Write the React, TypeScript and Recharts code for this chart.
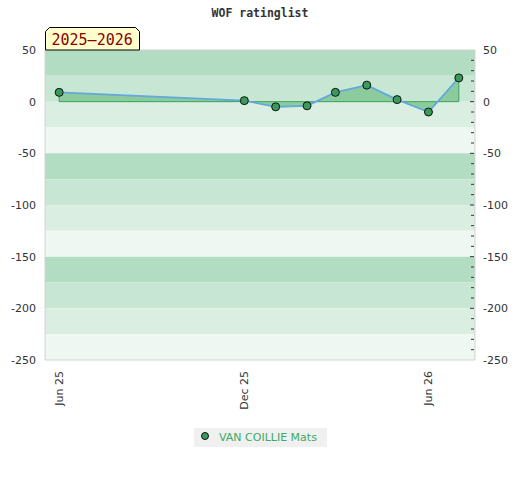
import {
  Area,
  CartesianGrid,
  ComposedChart,
  Line,
  ReferenceArea,
  ReferenceLine,
  XAxis,
  YAxis,
} from "recharts";

// monthly rating change for the season
const MONTHS = [
  "2025-06-01",
  "2025-12-01",
  "2026-01-01",
  "2026-02-01",
  "2026-03-01",
  "2026-04-01",
  "2026-05-01",
  "2026-06-01",
  "2026-07-01",
];
const RATING_DELTA = [9, 1, -5, -4, 9, 16, 2, -10, 23];

const X_TICKS = ["2025-06-01", "2025-12-01", "2026-06-01"];
const X_TICK_LABELS = ["Jun 25", "Dec 25", "Jun 26"];

const Y_MIN = -250;
const Y_MAX = 50;
const Y_TICKS = [50, 0, -50, -100, -150, -200, -250];
const Y_MINOR_TICKS = [
  50, 40, 30, 20, 10, 0, -10, -20, -30, -40, -50, -60, -70, -80, -90, -100, -110, -120, -130,
  -140, -150, -160, -170, -180, -190, -200, -210, -220, -230, -240, -250,
];
const BAND_EDGES = [50, 25, 0, -25, -50, -75, -100, -125, -150, -175, -200, -225, -250];
const BAND_COLORS = ["#b3ddc3", "#c8e6d4", "#dbeee2", "#eef7f1"];

const SERIES_NAME = "VAN COILLIE Mats";
const SEASON = "2025–2026";
const TITLE = "WOF ratinglist";

const DAY = 24 * 3600 * 1000;
const toTime = (s: string) => Date.parse(s + "T00:00:00Z");

const data = MONTHS.map((m, i) => ({ t: toTime(m), v: RATING_DELTA[i] }));
const firstT = data[0].t;
const lastT = data[data.length - 1].t;
const X_DOMAIN = [firstT - 14 * DAY, lastT + 16 * DAY];

const FONT = "'DejaVu Sans', sans-serif";
const TEXT = "#333333";
const BORDER = "#d3d3d3";
const RIGHT_MARGIN = 8;

function XTick(props: any) {
  const { x, y, payload } = props;
  const idx = X_TICKS.findIndex((d) => toTime(d) === payload.value);
  return (
    <text
      x={x}
      y={y}
      dy="0.35em"
      transform={`rotate(-90, ${x}, ${y})`}
      textAnchor="end"
      fontFamily={FONT}
      fontSize={11}
      fill={TEXT}
    >
      {X_TICK_LABELS[idx]}
    </text>
  );
}

function RightTick(props: any) {
  const { x, y, payload } = props;
  const value = Number(payload.value);
  const major = value % 50 === 0;
  const axisX = x - RIGHT_MARGIN;
  const edge = value === Y_MAX || value === Y_MIN;
  return (
    <g>
      {!edge && (
        <line x1={axisX - (major ? 5 : 4)} x2={axisX - 1} y1={y} y2={y} stroke={TEXT} />
      )}
      {major && (
        <text x={x} y={y} dy={4} textAnchor="start" fontFamily={FONT} fontSize={11} fill={TEXT}>
          {value}
        </text>
      )}
    </g>
  );
}

export default function App() {
  return (
    <div
      style={{
        position: "absolute",
        left: 0,
        top: 0,
        width: 520,
        height: 480,
        background: "#fff",
      }}
    >
      <div
        style={{
          position: "absolute",
          top: 6,
          left: 0,
          width: 520,
          textAlign: "center",
          fontFamily: "'DejaVu Sans Mono', monospace",
          fontWeight: "bold",
          fontSize: 11.5,
          color: TEXT,
        }}
      >
        {TITLE}
      </div>

      <ComposedChart
        width={520}
        height={480}
        data={data}
        margin={{ top: 50, right: 0, left: 0, bottom: 60 }}
      >
        {BAND_EDGES.slice(0, -1).map((top, i) => (
          <ReferenceArea
            key={top}
            yAxisId="left"
            y1={BAND_EDGES[i + 1]}
            y2={top}
            fill={BAND_COLORS[i % BAND_COLORS.length]}
            fillOpacity={1}
            stroke="none"
            ifOverflow="hidden"
          />
        ))}
        <CartesianGrid
          yAxisId="left"
          vertical={false}
          stroke="#ffffff"
          strokeOpacity={0.5}
        />
        <XAxis
          dataKey="t"
          type="number"
          scale="time"
          domain={X_DOMAIN}
          ticks={X_TICKS.map(toTime)}
          tick={<XTick />}
          tickLine={false}
          tickSize={0}
          tickMargin={11}
          axisLine={{ stroke: BORDER }}
          height={60}
          interval={0}
        />
        <YAxis
          yAxisId="left"
          type="number"
          domain={[Y_MIN, Y_MAX]}
          ticks={Y_TICKS}
          interval={0}
          width={45}
          tickLine={false}
          tickSize={0}
          tickMargin={9}
          axisLine={{ stroke: BORDER }}
          tick={{ fontFamily: FONT, fontSize: 11, fill: TEXT }}
        />
        <YAxis
          yAxisId="right"
          type="number"
          orientation="right"
          domain={[Y_MIN, Y_MAX]}
          ticks={Y_MINOR_TICKS}
          interval={0}
          width={45}
          tickLine={false}
          tickSize={0}
          tickMargin={RIGHT_MARGIN}
          axisLine={{ stroke: BORDER }}
          tick={<RightTick />}
        />
        <ReferenceLine yAxisId="left" y={Y_MAX} stroke={BORDER} />
        <Area
          yAxisId="right"
          type="linear"
          dataKey="v"
          baseValue={0}
          fill="#8bcb9d"
          fillOpacity={1}
          stroke="none"
          isAnimationActive={false}
        />
        <ReferenceLine
          yAxisId="left"
          segment={[
            { x: firstT, y: 0 },
            { x: lastT, y: 0 },
          ]}
          stroke="#3aa35c"
          strokeWidth={1}
        />
        <ReferenceLine
          yAxisId="left"
          segment={[
            { x: firstT, y: 0 },
            { x: firstT, y: RATING_DELTA[0] },
          ]}
          stroke="#3aa35c"
        />
        <ReferenceLine
          yAxisId="left"
          segment={[
            { x: lastT, y: 0 },
            { x: lastT, y: RATING_DELTA[RATING_DELTA.length - 1] },
          ]}
          stroke="#3aa35c"
        />
        <Line
          yAxisId="left"
          type="linear"
          dataKey="v"
          stroke="#62a8dc"
          strokeWidth={1.8}
          dot={{ r: 4, fill: "#3a9a5b", stroke: "#111", strokeWidth: 1, fillOpacity: 1 }}
          activeDot={false}
          isAnimationActive={false}
        />
      </ComposedChart>

      <svg
        width={100}
        height={26}
        style={{ position: "absolute", left: 44, top: 26, overflow: "visible" }}
      >
        <polygon
          points="1.5,5.5 5.5,1.5 91.5,1.5 95.5,5.5 95.5,24 1.5,24"
          fill="#ffffcc"
          stroke="#000"
          strokeWidth={1}
        />
        <text
          x={7.5}
          y={19}
          fontFamily="'DejaVu Sans Mono', monospace"
          fontSize={15}
          fill="#8b0000"
        >
          {SEASON}
        </text>
      </svg>

      <div
        style={{
          position: "absolute",
          left: 194,
          top: 428,
          width: 133,
          height: 19,
          background: "#f0f0f0",
          display: "flex",
          alignItems: "center",
          fontFamily: FONT,
          fontSize: 11,
          color: "#3daa5f",
        }}
      >
        <svg width={25} height={19}>
          <circle cx={11} cy={8} r={3.5} fill="#3a9a5b" stroke="#111" strokeWidth={1} />
        </svg>
        <span style={{ marginTop: -1 }}>{SERIES_NAME}</span>
      </div>
    </div>
  );
}
